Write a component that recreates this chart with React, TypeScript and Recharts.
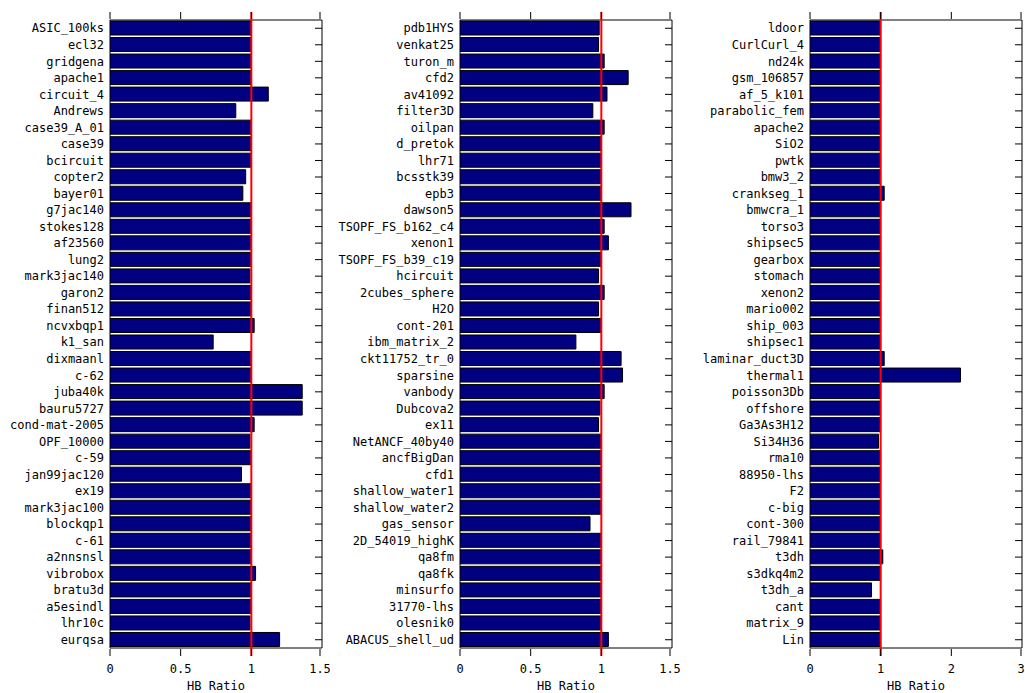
import React from 'react'
import { BarChart, Bar, XAxis, YAxis, ReferenceLine, ReferenceArea } from 'recharts'

const names1 = [
  'ASIC_100ks', 'ecl32', 'gridgena', 'apache1', 'circuit_4', 'Andrews', 'case39_A_01', 'case39',
  'bcircuit', 'copter2', 'bayer01', 'g7jac140', 'stokes128', 'af23560', 'lung2', 'mark3jac140',
  'garon2', 'finan512', 'ncvxbqp1', 'k1_san', 'dixmaanl', 'c-62', 'juba40k', 'bauru5727',
  'cond-mat-2005', 'OPF_10000', 'c-59', 'jan99jac120', 'ex19', 'mark3jac100', 'blockqp1', 'c-61',
  'a2nnsnsl', 'vibrobox', 'bratu3d', 'a5esindl', 'lhr10c', 'eurqsa',
]
const ratio1 = [
  1.0, 1.0, 1.0, 1.0, 1.12, 0.89, 1.0, 1.0,
  1.0, 0.96, 0.94, 1.0, 1.0, 1.0, 1.0, 0.99,
  1.0, 1.0, 1.02, 0.73, 1.0, 1.0, 1.36, 1.36,
  1.02, 0.99, 1.0, 0.93, 1.0, 1.0, 1.0, 1.0,
  1.0, 1.03, 1.0, 1.0, 0.99, 1.2,
]

const names2 = [
  'pdb1HYS', 'venkat25', 'turon_m', 'cfd2', 'av41092', 'filter3D', 'oilpan', 'd_pretok',
  'lhr71', 'bcsstk39', 'epb3', 'dawson5', 'TSOPF_FS_b162_c4', 'xenon1', 'TSOPF_FS_b39_c19', 'hcircuit',
  '2cubes_sphere', 'H2O', 'cont-201', 'ibm_matrix_2', 'ckt11752_tr_0', 'sparsine', 'vanbody', 'Dubcova2',
  'ex11', 'NetANCF_40by40', 'ancfBigDan', 'cfd1', 'shallow_water1', 'shallow_water2', 'gas_sensor', '2D_54019_highK',
  'qa8fm', 'qa8fk', 'minsurfo', '31770-lhs', 'olesnik0', 'ABACUS_shell_ud',
]
const ratio2 = [
  0.985, 0.98, 1.02, 1.19, 1.04, 0.94, 1.02, 1.0,
  1.0, 1.0, 1.0, 1.21, 1.02, 1.05, 1.0, 0.98,
  1.02, 0.98, 1.0, 0.82, 1.14, 1.15, 1.02, 0.99,
  0.98, 1.0, 1.0, 1.0, 1.0, 1.0, 0.92, 1.0,
  1.0, 1.0, 1.0, 1.0, 1.0, 1.05,
]

const names3 = [
  'ldoor', 'CurlCurl_4', 'nd24k', 'gsm_106857', 'af_5_k101', 'parabolic_fem', 'apache2', 'SiO2',
  'pwtk', 'bmw3_2', 'crankseg_1', 'bmwcra_1', 'torso3', 'shipsec5', 'gearbox', 'stomach',
  'xenon2', 'mario002', 'ship_003', 'shipsec1', 'laminar_duct3D', 'thermal1', 'poisson3Db', 'offshore',
  'Ga3As3H12', 'Si34H36', 'rma10', '88950-lhs', 'F2', 'c-big', 'cont-300', 'rail_79841',
  't3dh', 's3dkq4m2', 't3dh_a', 'cant', 'matrix_9', 'Lin',
]
const ratio3 = [
  1.0, 1.0, 1.0, 1.0, 1.0, 1.0, 1.0, 1.0,
  1.0, 1.0, 1.05, 1.0, 1.0, 1.0, 1.0, 1.0,
  1.0, 1.0, 1.0, 1.0, 1.05, 2.13, 1.0, 1.0,
  1.0, 0.97, 1.0, 1.0, 0.99, 1.0, 1.0, 1.0,
  1.03, 1.0, 0.87, 1.0, 1.0, 1.0,
]

const ticksLow = [0, 0.5, 1, 1.5]
const ticksHigh = [0, 1, 2, 3]

const FONT = '"DejaVu Sans Mono", monospace'
const H = 693
const TOP = 12
const AXIS_H = 37
const PLOT_W = 212
const PLOT_BOTTOM = H - AXIS_H
const TICK_LEN = 7

type PanelProps = {
  names: string[]
  values: number[]
  max: number
  ticks: number[]
  left: number
  labelW: number
  width: number
}

function Panel({ names, values, max, ticks, left, labelW, width }: PanelProps) {
  const data = names.map((name, i) => ({ name, ratio: values[i] }))
  const plotRight = labelW + PLOT_W

  // category labels on the left, inward tick marks on the right border
  const CatTick = (p: any) => (
    <g>
      <text x={labelW - 6} y={p.y} dy="0.35em" textAnchor="end" fontFamily={FONT} fontSize={12} fill="#000">
        {p.payload.value}
      </text>
      <line x1={plotRight - TICK_LEN} x2={plotRight} y1={p.y} y2={p.y} stroke="#000" />
    </g>
  )

  // value labels below, inward tick marks on top and bottom borders
  const ValTick = (p: any) => (
    <g>
      <text x={p.x} y={PLOT_BOTTOM + 17} textAnchor="middle" fontFamily={FONT} fontSize={12} fill="#000">
        {String(p.payload.value)}
      </text>
      <line x1={p.x} x2={p.x} y1={PLOT_BOTTOM} y2={PLOT_BOTTOM - TICK_LEN} stroke="#000" />
      <line x1={p.x} x2={p.x} y1={TOP} y2={TOP + TICK_LEN} stroke="#000" />
    </g>
  )

  return (
    <div style={{ position: 'absolute', left, top: 0 }}>
      <BarChart
        width={width}
        height={H}
        data={data}
        layout="vertical"
        margin={{ top: TOP, right: width - plotRight, bottom: 0, left: 0 }}
      >
        <XAxis
          type="number"
          domain={[0, max]}
          ticks={ticks}
          allowDataOverflow
          height={AXIS_H}
          axisLine={false}
          tickLine={false}
          tick={ValTick}
          label={{ value: 'HB Ratio', position: 'insideBottom', offset: 3, fontFamily: FONT, fontSize: 12, fill: '#000' }}
        />
        <YAxis
          type="category"
          dataKey="name"
          width={labelW}
          interval={0}
          padding={{ top: 8, bottom: 8 }}
          axisLine={false}
          tickLine={false}
          tick={CatTick}
        />
        <ReferenceArea x1={0} x2={max} fill="none" stroke="#000" strokeWidth={1} ifOverflow="visible" />
        <Bar dataKey="ratio" fill="#000080" stroke="#000" strokeWidth={1} barSize={14} isAnimationActive={false} />
        <ReferenceLine x={1} stroke="#ff0000" strokeWidth={2} />
      </BarChart>
    </div>
  )
}

export default function App() {
  return (
    <div style={{ position: 'fixed', left: 0, top: 0, width: 1025, height: H, background: '#fff' }}>
      <Panel names={names1} values={ratio1} max={1.5} ticks={ticksLow} left={0} labelW={110} width={330} />
      <Panel names={names2} values={ratio2} max={1.5} ticks={ticksLow} left={330} labelW={130} width={350} />
      <Panel names={names3} values={ratio3} max={3} ticks={ticksHigh} left={680} labelW={130} width={345} />
    </div>
  )
}
